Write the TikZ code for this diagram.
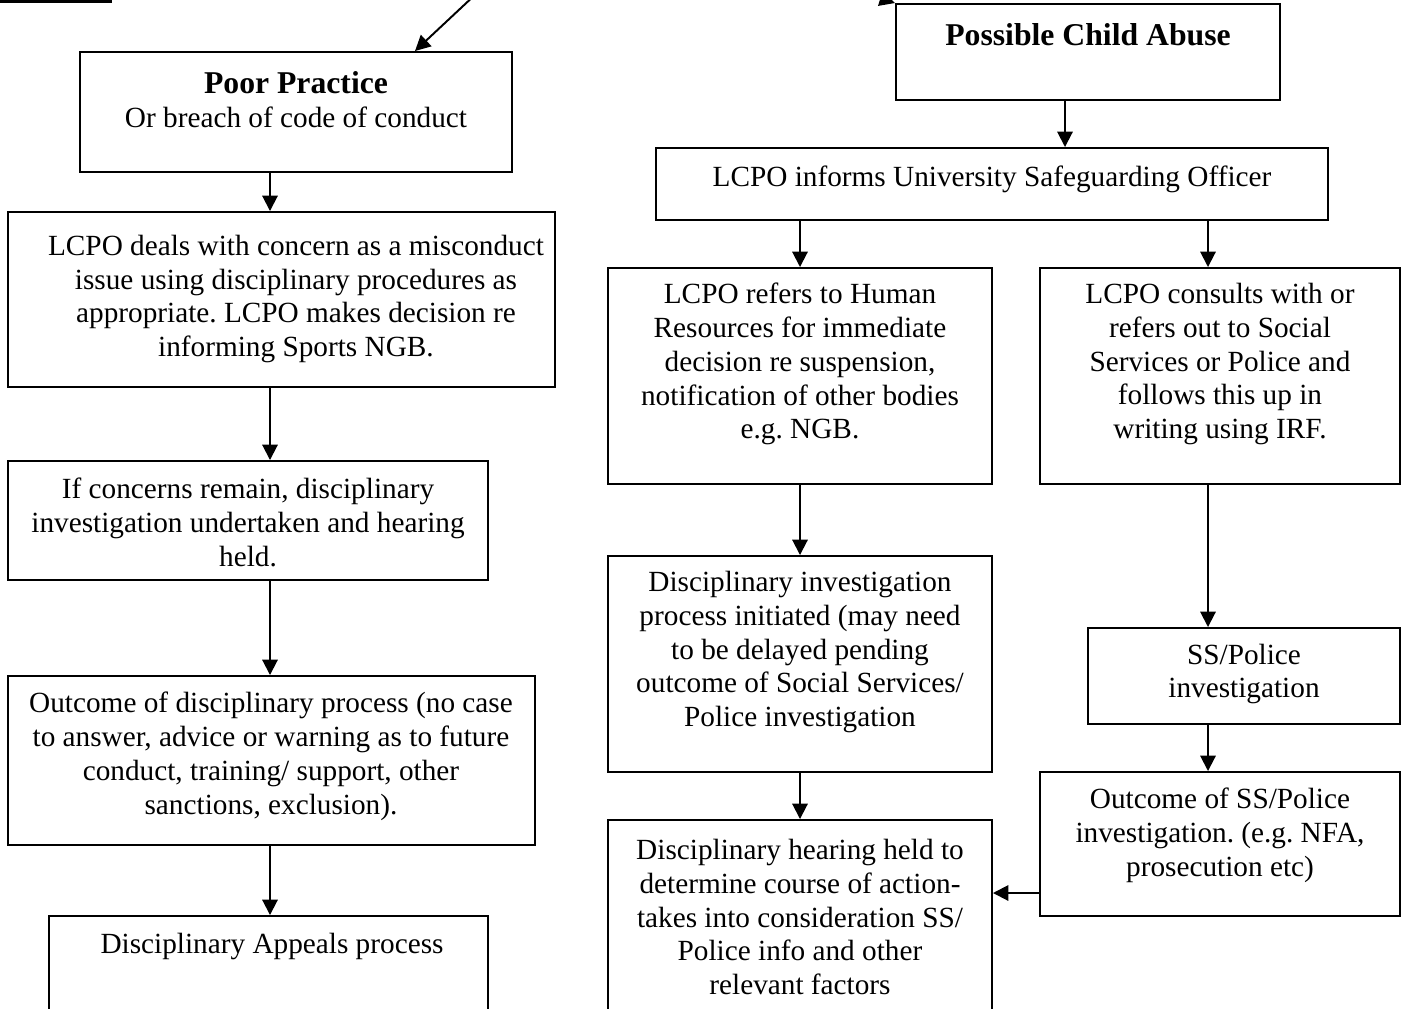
\documentclass[tikz,border=0pt]{standalone}
\usepackage{fontspec}
\setmainfont{Liberation Serif}
\usetikzlibrary{fit,arrows.meta}
\frenchspacing
\begin{document}
\begin{tikzpicture}[x=0.41pt,y=-0.41pt,
    box/.style={draw, line width=0.8pt, inner sep=0pt},
    txt/.style={align=center, inner sep=0pt, font=\fontsize{12}{13.9}\selectfont},
    arr/.style={line width=0.8pt, -{Triangle[length=6.3pt,width=6.3pt]}}]
  \useasboundingbox (0,0) rectangle (1407,1008);
  \clip (0,0) rectangle (1407,1008);
  \fill (0,0) rectangle (112,3);
  % left side
  \node[box, fit={(80,52) (512,172)}] (pp) {};
  \node[box, fit={(8,212) (555,387)}] (ld) {};
  \node[box, fit={(8,461) (488,580)}] (ic) {};
  \node[box, fit={(8,676) (535,845)}] (oc) {};
  \node[box, fit={(49,916) (488,1040)}] (ap) {};
  \node[txt] at (296,100) (pp-t) {{\fontsize{13}{14}\selectfont\bfseries Poor Practice}\\Or breach of code of conduct};
  \node[txt] at (296,299) (ld-t) {LCPO deals with concern as a misconduct\\issue using disciplinary procedures as\\appropriate. LCPO makes decision re\\informing Sports NGB.};
  \node[txt] at (248,522) (ic-t) {If concerns remain, disciplinary\\investigation undertaken and hearing\\held.};
  \node[txt] at (271,756) (oc-t) {Outcome of disciplinary process (no case\\to answer, advice or warning as to future\\conduct, training/ support, other\\sanctions, exclusion).};
  \node[txt] at (272,946) (ap-t) {Disciplinary Appeals process};
  % right side
  \node[box, fit={(896,4) (1280,100)}] (ca) {};
  \node[box, fit={(656,148) (1328,220)}] (us) {};
  \node[box, fit={(608,268) (992,484)}] (hr) {};
  \node[box, fit={(1040,268) (1400,484)}] (cs) {};
  \node[box, fit={(608,556) (992,772)}] (di) {};
  \node[box, fit={(1088,628) (1400,724)}] (sp) {};
  \node[box, fit={(1040,772) (1400,916)}] (os) {};
  \node[box, fit={(608,820) (992,1040)}] (dh) {};
  \node[txt, font=\fontsize{13}{14}\selectfont\bfseries] at (1088,35) (ca-t) {Possible Child Abuse};
  \node[txt] at (992,179) (us-t) {LCPO informs University Safeguarding Officer};
  \node[txt] at (800,364) (hr-t) {LCPO refers to Human\\Resources for immediate\\decision re suspension,\\notification of other bodies\\e.g. NGB.};
  \node[txt] at (1220,364) (cs-t) {LCPO consults with or\\refers out to Social\\Services or Police and\\follows this up in\\writing using IRF.};
  \node[txt] at (800,652) (di-t) {Disciplinary investigation\\process initiated (may need\\to be delayed pending\\outcome of Social Services/\\Police investigation};
  \node[txt] at (1244,674) (sp-t) {SS/Police\\investigation};
  \node[txt] at (1220,835) (os-t) {Outcome of SS/Police\\investigation. (e.g. NFA,\\prosecution etc)};
  \node[txt] at (800,917) (dh-t) {Disciplinary hearing held to\\determine course of action-\\takes into consideration SS/\\Police info and other\\relevant factors};
  % connectors
  \coordinate (lx) at (270,0);
  \coordinate (cx) at (1065,0);
  \coordinate (rx) at (1208,0);
  \coordinate (hy) at (0,893);
  \coordinate (tip) at (415,0);
  \coordinate (a1) at (525,-52);
  \coordinate (a2) at (760,-40);
  \draw[arr] (a1) -- (pp.north -| tip);
  \draw[arr] (a2) -- (ca.north west);
  \draw[arr] (pp.south -| lx) -- (ld.north -| lx);
  \draw[arr] (ld.south -| lx) -- (ic.north -| lx);
  \draw[arr] (ic.south -| lx) -- (oc.north -| lx);
  \draw[arr] (oc.south -| lx) -- (ap.north -| lx);
  \draw[arr] (ca.south -| cx) -- (us.north -| cx);
  \draw[arr] (us.south -| hr) -- (hr.north);
  \draw[arr] (us.south -| rx) -- (cs.north -| rx);
  \draw[arr] (hr.south) -- (di.north);
  \draw[arr] (cs.south -| rx) -- (sp.north -| rx);
  \draw[arr] (sp.south -| rx) -- (os.north -| rx);
  \draw[arr] (di.south) -- (dh.north);
  \draw[arr] (os.west |- hy) -- (dh.east |- hy);
\end{tikzpicture}
\end{document}
